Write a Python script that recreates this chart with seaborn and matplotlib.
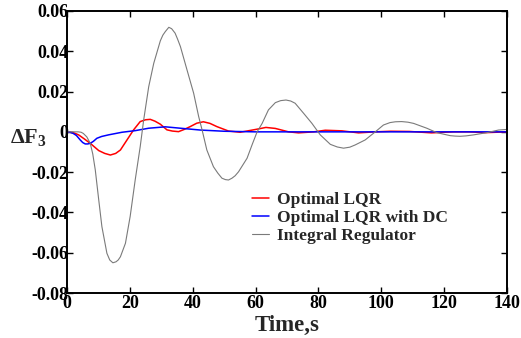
import matplotlib
matplotlib.use("Agg")
import matplotlib.pyplot as plt
import seaborn as sns
import pandas as pd
from matplotlib.ticker import FixedLocator, FuncFormatter

# -------------------------------
# Data
# -------------------------------
t_lqr = [0, 2, 3.7, 5.5, 7.4, 10.1, 12, 13.8, 15.5, 17, 19.1, 21.2, 23.3, 25, 26.5,
         28, 29.7, 31.8, 33.5, 35.5, 37.3, 39.2, 41.3, 43.4, 45.5, 47.7, 51.4,
         55.1, 60.4, 63.3, 66.3, 70.5, 73.7, 78.5, 82.2, 87.5, 92.8, 98, 103, 109,
         116, 123, 128, 133, 140]
v_lqr = [0, -0.0004, -0.0015, -0.0035, -0.0057, -0.0093, -0.0107, -0.0115, -0.0107,
         -0.009, -0.004, 0.001, 0.0051, 0.006, 0.0062, 0.0053, 0.0038, 0.001,
         0.0004, 0.0001, 0.0012, 0.0026, 0.0043, 0.0050, 0.0042, 0.0026, 0.0004,
         -0.0002, 0.0013, 0.0022, 0.0017, 0.0, -0.0005, 0.0, 0.0008, 0.0005,
         -0.0005, 0.0, 0.0003, 0.0002, -0.0005, 0.0, 0.0, -0.0004, 0.0]

t_dc = [0, 1, 2, 3, 4.2, 5, 5.8, 6.6, 7.4, 8.4, 9.5, 11, 13.2, 17.5, 21.7, 26, 31.3,
        36.1, 42.4, 50, 60, 140]
v_dc = [0, -0.0002, -0.0008, -0.0018, -0.004, -0.0053, -0.006, -0.006, -0.0057,
        -0.0047, -0.0032, -0.0023, -0.0015, -0.0002, 0.0006, 0.0018, 0.0025,
        0.0018, 0.0009, 0.0003, 0, 0]

t_int = [0, 3.6, 4.5, 5.2, 6.3, 7.4, 8.2, 9.0, 10.1, 11.1, 12.7, 13.6, 14.6, 15.6,
         16.3, 17.0, 18.6, 20.1, 21.7, 23.3, 24.4, 26.0, 27.6, 29.7, 30.5, 31.3,
         32.4, 33.3, 34.4, 35.2, 36.1, 38.2, 40.3, 41.9, 43.0, 44.5, 46.6, 48.0,
         49.3, 50.4, 51.4, 52.5, 53.5, 54.6, 57.3, 59.0, 60.5, 62.1, 64.1, 66.3,
         68.0, 69.7, 71.2, 72.6, 75.3, 77.9, 80.6, 83.8, 86, 88, 90, 91.7, 94.9,
         98.1, 100.7, 102.8, 104.5, 106.5, 108.5, 110.3, 114.5, 117.7, 122, 123.5,
         125.1, 127, 129.4, 133.6, 137.3, 140]
v_int = [0, 0, -0.0002, -0.0008, -0.0025, -0.0057, -0.011, -0.0189, -0.0338, -0.047,
         -0.0603, -0.0636, -0.065, -0.0645, -0.0636, -0.062, -0.0553, -0.042,
         -0.0239, -0.0073, 0.0059, 0.0224, 0.034, 0.0452, 0.048, 0.0498, 0.0519,
         0.0512, 0.049, 0.046, 0.0423, 0.0307, 0.0192, 0.0076, 0.0009, -0.009,
         -0.0173, -0.0205, -0.023, -0.0237, -0.0239, -0.0230, -0.0218, -0.0198,
         -0.0131, -0.006, 0.0, 0.0042, 0.0109, 0.0145, 0.0155, 0.0158, 0.0153,
         0.0142, 0.0092, 0.0043, -0.0015, -0.0062, -0.0075, -0.0081, -0.0076,
         -0.0065, -0.004, 0.0, 0.0034, 0.0046, 0.005, 0.0051, 0.0048, 0.0042,
         0.0018, -0.0004, -0.0019, -0.0021, -0.0022, -0.002, -0.0015, -0.0004,
         0.0009, 0.0012]

x_ticks = [0, 20, 40, 60, 80, 100, 120, 140]
y_ticks = [-0.08, -0.06, -0.04, -0.02, 0, 0.02, 0.04, 0.06]

# -------------------------------
# Style
# -------------------------------
sns.set_style("ticks")
plt.rcParams["font.family"] = ["Liberation Serif", "DejaVu Serif"]
plt.rcParams["font.weight"] = "bold"
plt.rcParams["mathtext.fontset"] = "custom"
plt.rcParams["mathtext.rm"] = "Liberation Serif:bold"
plt.rcParams["mathtext.bf"] = "Liberation Serif:bold"
plt.rcParams["mathtext.it"] = "Liberation Serif:bold"
plt.rcParams["axes.unicode_minus"] = False

fig = plt.figure(figsize=(5.21, 3.38), dpi=100)
ax = fig.add_axes([0.1286, 0.1331, 0.8444, 0.8344])

sns.lineplot(x=t_lqr, y=v_lqr, ax=ax, color="#ff0000", linewidth=1.1,
             label="Optimal LQR", sort=False)
sns.lineplot(x=t_dc, y=v_dc, ax=ax, color="#0000ff", linewidth=1.1,
             label="Optimal LQR with DC", sort=False)
sns.lineplot(x=t_int, y=v_int, ax=ax, color="#7a7a7a", linewidth=0.8,
             label="Integral Regulator", sort=False)

ax.set_xlim(0, 140)
ax.set_ylim(-0.08, 0.06)
ax.xaxis.set_major_locator(FixedLocator(x_ticks))
ax.yaxis.set_major_locator(FixedLocator(y_ticks))
ax.yaxis.set_major_formatter(FuncFormatter(lambda v, p: "0" if abs(v) < 1e-9 else f"{v:.2f}"))
ax.xaxis.set_major_formatter(FuncFormatter(lambda v, p: f"{v:.0f}"))

ax.tick_params(direction="in", length=4, width=1, top=True, right=True,
               labelsize=13, colors="black")
ax.tick_params(axis="y", pad=-1)
ax.tick_params(axis="x", pad=1.5)
for s in ax.spines.values():
    s.set_linewidth(1.4)
    s.set_color("black")

ax.set_xlabel("Time,s", fontsize=16.5, fontweight="bold", labelpad=2)
ax.set_ylabel(r"$\Delta$F$_3$", fontsize=16, fontweight="bold", rotation=0,
              va="center", ha="left")
ax.yaxis.set_label_coords(-0.13, 0.55)

ax.legend(loc="center left", bbox_to_anchor=(0.4837, 0.356),
          bbox_transform=fig.transFigure, frameon=False, fontsize=12.5,
          handlelength=0.95, handletextpad=0.5, labelspacing=0.1,
          borderpad=0, borderaxespad=0)

fig.savefig("out.png", dpi=100)
